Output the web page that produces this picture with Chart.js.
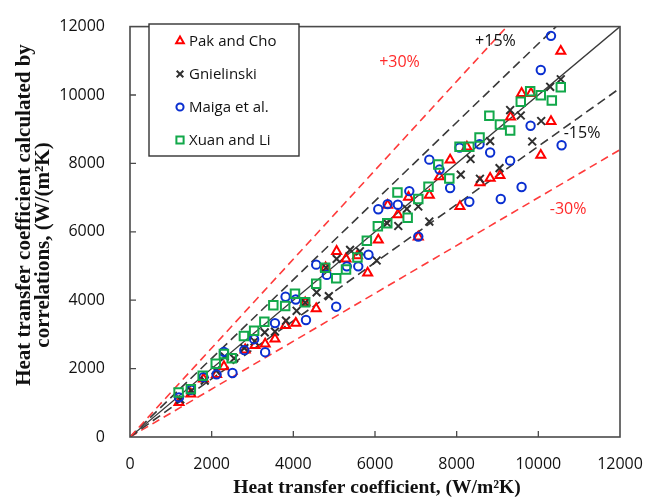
<!DOCTYPE html>
<html>
<head>
<meta charset="utf-8">
<script src="https://cdn.jsdelivr.net/npm/chart.js@4.4.1/dist/chart.umd.min.js"></script>
<style>
  html, body { margin: 0; padding: 0; background: #fff; }
</style>
</head>
<body>
<canvas id="htc" width="660" height="499"></canvas>
<script>
// experimental h (x) against h from correlations (y), W/(m2K)
var pakCho = [[1200,1010],[1490,1260],[1800,1700],[2120,1830],[2300,2060],[2820,2550],[3060,2680],[3310,2720],[3550,2870],[3810,3260],[4060,3330],[4290,3930],[4560,3750],[4790,4950],[5060,5430],[5290,5210],[5570,5300],[5820,4800],[6080,5760],[6310,6780],[6560,6500],[6820,7010],[7060,5850],[7330,7070],[7580,7610],[7840,8100],[8080,6740],[8250,8480],[8570,7440],[8820,7570],[9060,7650],[9320,9360],[9590,10050],[9820,10050],[10060,8240],[10310,9230],[10550,11280]];
var gnielinski = [[1230,1100],[1500,1350],[1830,1650],[2100,1950],[2320,2350],[2550,2300],[2800,2600],[3050,2800],[3300,3060],[3550,3080],[3820,3400],[4080,3690],[4290,3930],[4570,4230],[4800,4950],[4870,4120],[5060,5210],[5390,5470],[5630,5430],[6040,5160],[6300,6250],[6570,6170],[6780,6670],[7060,6740],[7330,6300],[8100,7670],[8340,8130],[8570,7550],[8820,8650],[9050,7860],[9310,9560],[9570,9400],[9850,8640],[10070,9240],[10290,10240],[10550,10460]];
var maiga = [[1200,1160],[1490,1380],[1800,1750],[2120,1830],[2300,2490],[2510,1870],[2800,2540],[3040,2860],[3310,2480],[3550,3330],[3810,4100],[4060,4020],[4310,3420],[4560,5040],[4820,4740],[5050,3810],[5310,4990],[5590,4990],[5840,5330],[6080,6660],[6310,6810],[6560,6790],[6840,7190],[7060,5860],[7330,8110],[7580,7820],[7840,7280],[8070,8460],[8310,6880],[8560,8560],[8820,8320],[9080,6960],[9310,8080],[9590,7310],[9810,9100],[10060,10730],[10310,11730],[10570,8530]];
var xuanLi = [[1190,1300],[1490,1400],[1780,1790],[2100,2140],[2300,2430],[2490,2300],[2790,2950],[3040,3110],[3290,3370],[3510,3850],[3800,3830],[4040,4190],[4290,3940],[4560,4480],[4780,4950],[5050,4640],[5290,4900],[5570,5250],[5800,5740],[6070,6160],[6300,6250],[6550,7150],[6800,6410],[7060,6960],[7310,7320],[7550,7970],[7820,7560],[8070,8490],[8310,8490],[8560,8760],[8800,9390],[9060,9140],[9310,8960],[9570,9800],[9800,10110],[10060,9990],[10330,9840],[10550,10230]];

var axisMax = 12000, axisStep = 2000;

// deviation bands y = f * x
var bandFactors = [1.3, 1.15, 1.0, 0.85, 0.7];
var bandLabels  = ['+30%', '+15%', '', '-15%', '-30%'];
var bandLabelAt = [[6600,10950], [8950,11570], null, [11070,8880], [10730,6640]];

function pts(arr) { return arr.map(function (p) { return { x: p[0], y: p[1] }; }); }

function bandLine(f) {
  var end = f >= 1 ? { x: axisMax / f, y: axisMax } : { x: axisMax, y: axisMax * f };
  return [{ x: 0, y: 0 }, end];
}

var series = [
  { label: 'Pak and Cho', data: pts(pakCho),     pointStyle: 'triangle', color: '#ff0000', radius: 5.2, order: 4 },
  { label: 'Gnielinski',  data: pts(gnielinski), pointStyle: 'crossRot', color: '#303030', radius: 5.5, order: 3 },
  { label: 'Maiga et al.', data: pts(maiga),     pointStyle: 'circle',   color: '#0a2fd0', radius: 4.2, order: 2 },
  { label: 'Xuan and Li', data: pts(xuanLi),     pointStyle: 'rect',     color: '#12a84a', radius: 6,   order: 1 }
];

var datasets = series.map(function (s) {
  return {
    type: 'scatter', label: s.label, data: s.data, order: s.order,
    pointStyle: s.pointStyle, pointRadius: s.radius, pointBorderWidth: 2,
    pointBorderColor: s.color, pointBackgroundColor: 'rgba(0,0,0,0)',
    borderColor: s.color, showLine: false, isSeries: true
  };
});

bandFactors.forEach(function (f, i) {
  var red = Math.abs(f - 1) > 0.2;
  datasets.push({
    type: 'line', label: bandLabels[i], data: bandLine(f), order: 10 + i,
    borderColor: red ? '#ff3b3b' : '#3a3a3a',
    borderWidth: f === 1 ? 1.3 : 1.6,
    borderDash: f === 1 ? [] : (red ? [8, 5] : [9, 5]),
    pointRadius: 0, fill: false, tension: 0
  });
});

var tickFont = { family: 'Open Sans', size: 16 };
var plainTick = function (v) { return String(v); };

var decor = {
  id: 'decor',
  afterDraw: function (chart) {
    var ctx = chart.ctx, a = chart.chartArea;
    var sx = chart.scales.x, sy = chart.scales.y;
    ctx.save();

    // frame and inward ticks
    ctx.strokeStyle = '#4a4a4a';
    ctx.lineWidth = 1.6;
    ctx.strokeRect(a.left, a.top, a.right - a.left, a.bottom - a.top);
    ctx.lineWidth = 1.3;
    for (var v = axisStep; v < axisMax; v += axisStep) {
      var px = sx.getPixelForValue(v), py = sy.getPixelForValue(v);
      ctx.beginPath();
      ctx.moveTo(px, a.bottom); ctx.lineTo(px, a.bottom - 6);
      ctx.moveTo(a.left, py); ctx.lineTo(a.left + 6, py);
      ctx.stroke();
    }

    // band labels
    ctx.font = '16px "Open Sans"';
    ctx.textAlign = 'center';
    ctx.textBaseline = 'middle';
    bandLabels.forEach(function (t, i) {
      if (!t) return;
      var at = bandLabelAt[i];
      ctx.fillStyle = Math.abs(bandFactors[i] - 1) > 0.2 ? '#ff2a2a' : '#111';
      ctx.fillText(t, sx.getPixelForValue(at[0]), sy.getPixelForValue(at[1]));
    });

    // legend box
    var lx = 149, ly = 24, lw = 150, lh = 132;
    ctx.fillStyle = '#fff';
    ctx.fillRect(lx, ly, lw, lh);
    ctx.strokeStyle = '#333';
    ctx.lineWidth = 1.4;
    ctx.strokeRect(lx, ly, lw, lh);
    ctx.font = '15px "Open Sans"';
    ctx.textAlign = 'left';
    chart.data.datasets.filter(function (d) { return d.isSeries; }).forEach(function (d, i) {
      var cy = 41 + i * 33;
      ctx.strokeStyle = d.pointBorderColor;
      ctx.fillStyle = 'rgba(0,0,0,0)';
      ctx.lineWidth = 2;
      Chart.helpers.drawPoint(ctx, { pointStyle: d.pointStyle, radius: d.pointRadius * 0.85, rotation: 0, borderWidth: 2 }, 180, cy);
      ctx.fillStyle = '#111';
      ctx.fillText(d.label, 189, cy + 1);
    });

    // axis titles
    ctx.fillStyle = '#111';
    ctx.textAlign = 'center';
    ctx.font = 'bold 19.5px "Liberation Serif"';
    ctx.fillText('Heat transfer coefficient, (W/m\u00b2K)', (a.left + a.right) / 2 + 2, 488);
    ctx.font = 'bold 21px "Liberation Serif"';
    ctx.save();
    ctx.translate(25, 215);
    ctx.rotate(-Math.PI / 2);
    ctx.fillText('Heat transfer coefficient calculated by', 0, 0);
    ctx.restore();
    ctx.save();
    ctx.translate(44, 245);
    ctx.rotate(-Math.PI / 2);
    ctx.fillText('correlations, (W/(m\u00b2K)', 0, 0);
    ctx.restore();

    ctx.restore();
  }
};

new Chart(document.getElementById('htc'), {
  type: 'scatter',
  data: { datasets: datasets },
  options: {
    responsive: false,
    animation: false,
    devicePixelRatio: 1,
    layout: { padding: { top: 18, right: 40, left: 0, bottom: 0 } },
    plugins: { legend: { display: false }, tooltip: { enabled: false } },
    scales: {
      x: {
        type: 'linear', min: 0, max: axisMax,
        ticks: { stepSize: axisStep, padding: 10, color: '#111', font: tickFont, maxRotation: 0, callback: plainTick },
        grid: { display: false }, border: { display: false },
        afterFit: function (s) { s.height = 62; }
      },
      y: {
        type: 'linear', min: 0, max: axisMax,
        ticks: { stepSize: axisStep, padding: 17, color: '#111', font: tickFont, callback: plainTick },
        grid: { display: false }, border: { display: false },
        afterFit: function (s) { s.width = 130; }
      }
    }
  },
  plugins: [decor]
});
</script>
</body>
</html>
